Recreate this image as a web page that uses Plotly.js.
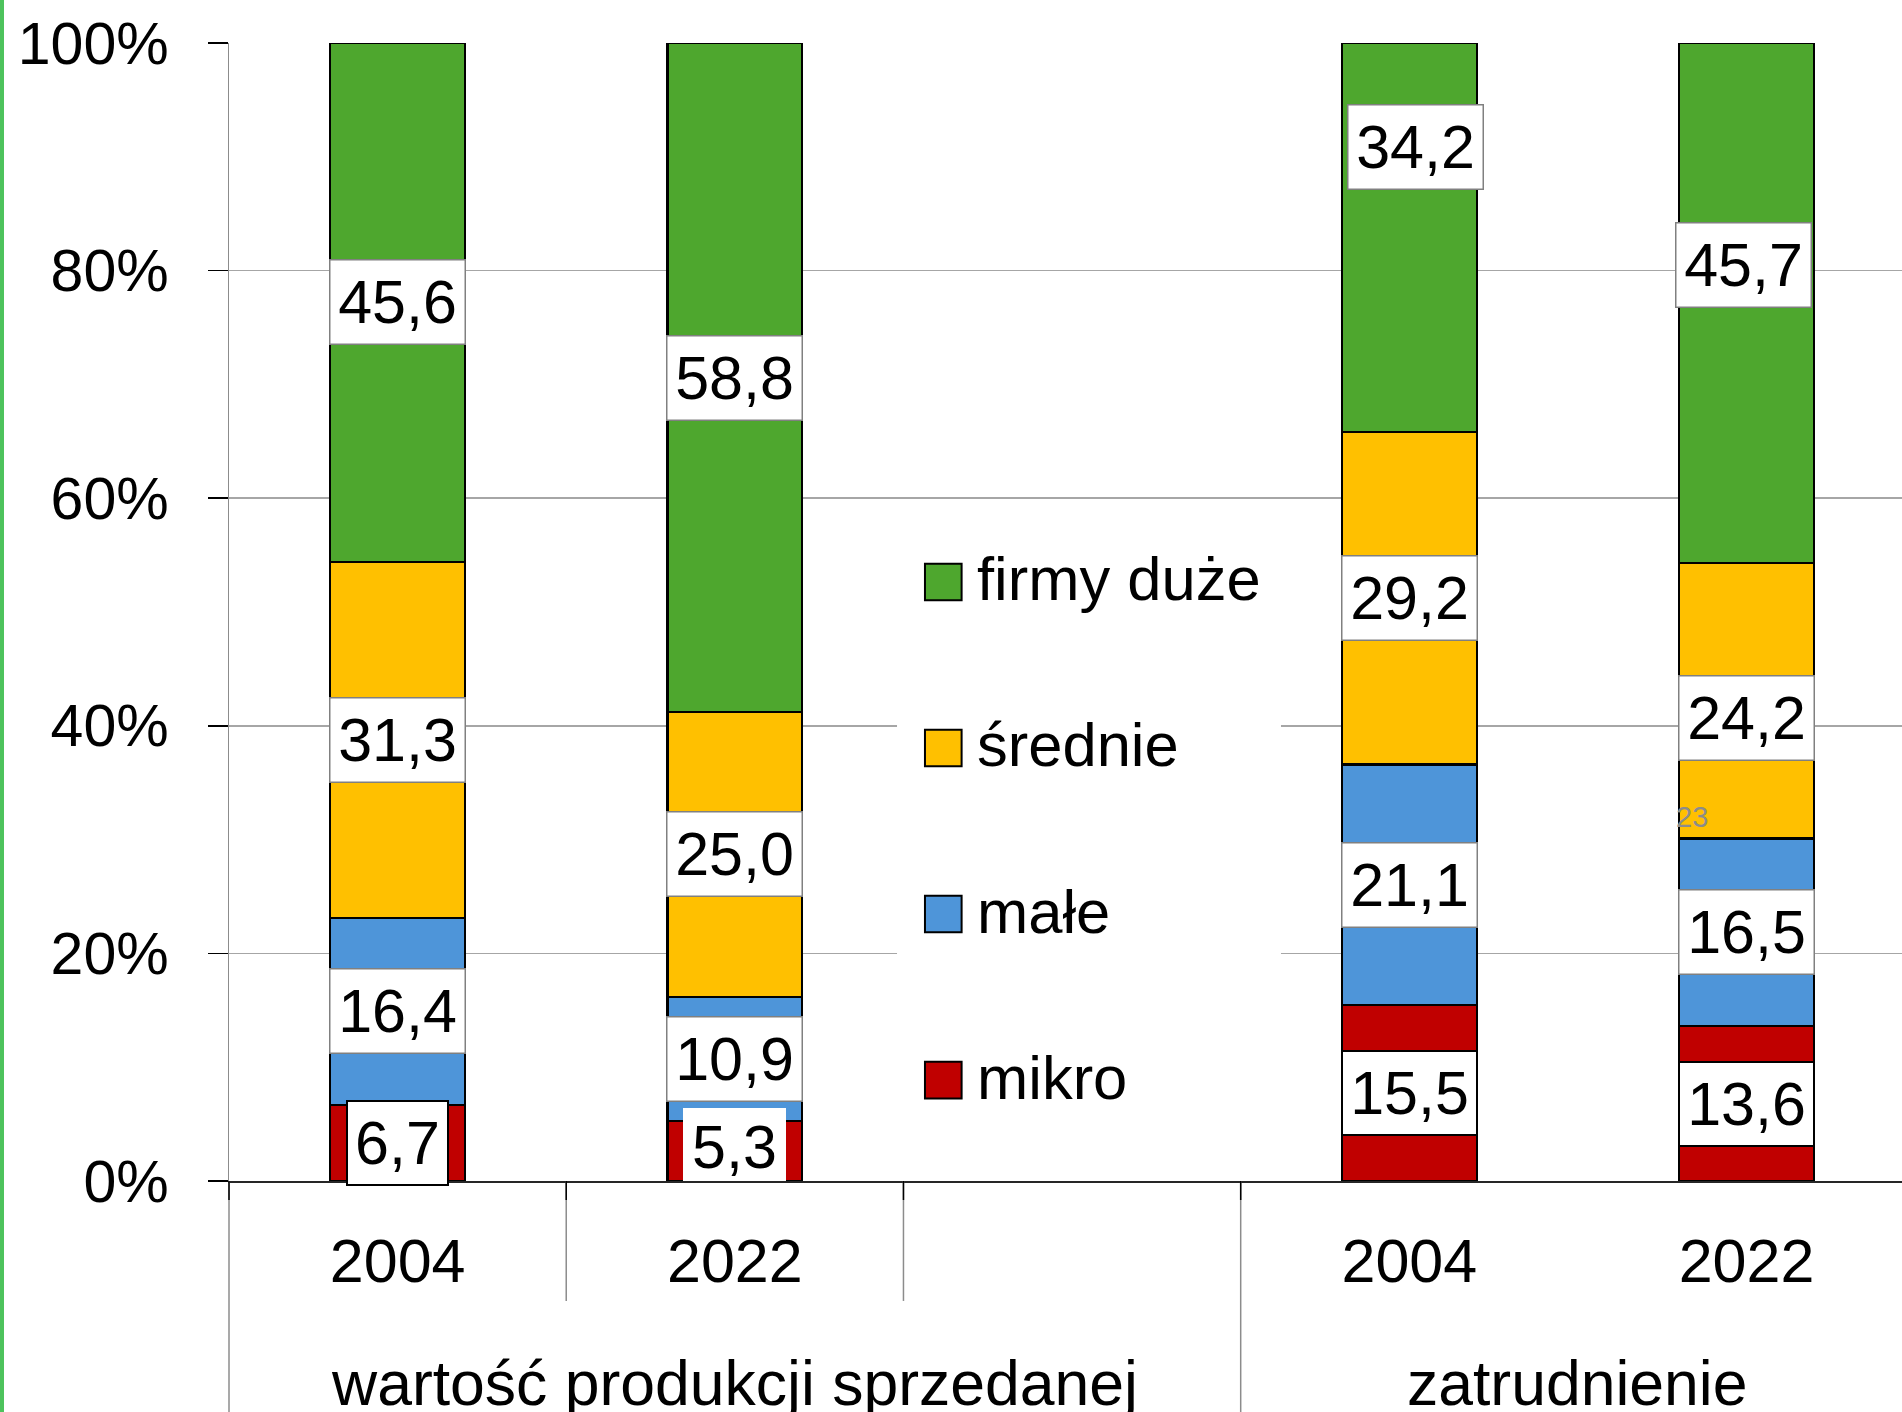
<!DOCTYPE html>
<html>
<head>
<meta charset="utf-8">
<script src="https://cdn.plot.ly/plotly-3.0.1.min.js"></script>
<style>
html,body{margin:0;padding:0;background:#fff;overflow:hidden}
#edge{position:absolute;left:0;top:0;width:4px;height:1412px;background:#4DC35C;z-index:10}
#chart{width:1902px;height:1412px}
</style>
</head>
<body>
<div id="edge"></div>
<div id="chart"></div>
<script>
// ---------- data ----------
const groups = ['wartość produkcji sprzedanej', 'zatrudnienie'];
const years = ['2004', '2022', '2004', '2022'];
const barGroup = [0, 0, 1, 1];
const seriesNames = ['mikro', 'małe', 'średnie', 'firmy duże'];
const mikro = [6.7, 5.3, 15.5, 13.6];
const male = [16.4, 10.9, 21.1, 16.5];
const srednie = [31.3, 25.0, 29.2, 24.2];
const duze = [45.6, 58.8, 34.2, 45.7];
const yTicks = [0, 20, 40, 60, 80, 100];
const strayNote = '23';

// ---------- styling ----------
const FONT = '"Liberation Sans", Arial, sans-serif';
const colors = ['#C00000', '#4E95D9', '#FFC000', '#4EA72E'];
const series = [mikro, male, srednie, duze];

// category slots (one empty slot after every group except the last)
const ids = years.map((y, i) => 'g' + barGroup[i] + '-' + y);
const catArray = [];
const groupSlots = [];
groups.forEach((g, gi) => {
  const slots = [];
  ids.forEach((id, i) => { if (barGroup[i] === gi) { slots.push(catArray.length); catArray.push(id); } });
  if (gi < groups.length - 1) { slots.push(catArray.length); catArray.push('gap' + gi); }
  groupSlots.push(slots);
});

const traces = series.map((vals, si) => ({
  type: 'bar', name: seriesNames[si], x: ids, y: vals,
  marker: { color: colors[si], line: { color: '#000', width: 2.2 } },
  width: 0.4, showlegend: false, hoverinfo: 'skip'
}));

const fmt = v => v.toFixed(1).replace('.', ',');

// per-label tweaks (pixel offsets / box styles)
const tweak = {
  '0-0': { w: 99, black: true },
  '0-1': { plain: true },
  '0-2': { black: true },
  '0-3': { black: true },
  '3-2': { dy: 91, dx: 6 },
  '3-3': { dy: 38, dx: -3 },
  '2-3': { dy: -17 }
};

const annotations = [];
const base = ids.map(() => 0);
series.forEach((vals, si) => {
  vals.forEach((v, i) => {
    const t = tweak[si + '-' + i] || {};
    const a = {
      xref: 'x', yref: 'y', x: ids[i], y: base[i] + v / 2,
      text: fmt(v), showarrow: false,
      font: { family: FONT, size: 61, color: '#000' },
      bgcolor: '#fff', bordercolor: t.black ? '#000' : '#808080',
      borderwidth: t.black ? 2 : 1.5, borderpad: 0,
      width: t.w || (t.black ? 133 : 134), height: t.black ? 82 : 83,
      xshift: t.dx || 0, yshift: t.dy || 0
    };
    if (t.plain) {
      Object.assign(a, { y: 0, yanchor: 'bottom', borderwidth: 0, bordercolor: '#fff',
        width: 103, height: 73, valign: 'bottom' });
    }
    annotations.push(a);
    base[i] += v;
  });
});

// group labels
groups.forEach((g, gi) => {
  const s = groupSlots[gi];
  annotations.push({
    xref: 'x', yref: 'paper', x: (s[0] + s[s.length - 1]) / 2, y: -0.145,
    xanchor: 'center', yanchor: 'top', text: g, showarrow: false,
    font: { family: FONT, size: 62.5, color: '#000' }
  });
});

// stray note
annotations.push({
  xref: 'paper', yref: 'y', x: 0.8745, y: 32, xanchor: 'center', yanchor: 'middle',
  text: strayNote, showarrow: false,
  font: { family: FONT, size: 29, color: '#8c8c8c' }
});

// shapes: dividers below x axis
const shapes = [];
const groupStart = new Set(groupSlots.map(s => s[0]));
for (let k = 0; k < catArray.length - 1; k++) {
  const isLong = groupStart.has(k);
  const xr = k === 0 ? 'paper' : 'x';
  const xv = k === 0 ? 0 : k - 0.5;
  shapes.push({ type: 'line', xref: xr, yref: 'paper', x0: xv, x1: xv, y0: 0, y1: isLong ? -0.21 : -0.1054,
    line: { color: '#8c8c8c', width: 1.5 } });
  shapes.push({ type: 'line', xref: xr, yref: 'paper', x0: xv, x1: xv, y0: 0, y1: -0.0167,
    line: { color: '#000', width: 1.5 } });
}

// legend (drawn manually, large square keys)
shapes.push({ type: 'rect', xref: 'paper', yref: 'paper', x0: 0.3993, x1: 0.6288, y0: 0.05, y1: 0.597,
  fillcolor: '#fff', line: { width: 0 }, layer: 'above' });
const legendOrder = [3, 2, 1, 0];
legendOrder.forEach((si, k) => {
  const yc = 0.5264 - k * 0.1459;
  shapes.push({ type: 'rect', xref: 'paper', yref: 'paper', x0: 0.4160, x1: 0.4379,
    y0: yc - 0.0161, y1: yc + 0.0161, fillcolor: colors[si], line: { color: '#000', width: 2 }, layer: 'above' });
  annotations.push({ xref: 'paper', yref: 'paper', x: 0.4462, y: yc, xanchor: 'left', yanchor: 'middle',
    yshift: 3, text: seriesNames[si], showarrow: false, font: { family: FONT, size: 61.5, color: '#000' } });
});

const layout = {
  width: 1902, height: 1412,
  margin: { l: 229, r: 0, t: 43, b: 231, pad: 0 },
  paper_bgcolor: '#fff', plot_bgcolor: '#fff',
  barmode: 'stack',
  font: { family: FONT, color: '#000' },
  xaxis: {
    type: 'category', categoryorder: 'array', categoryarray: catArray,
    range: [-0.5, 4.461], tickvals: ids, ticktext: years,
    tickfont: { family: FONT, size: 61, color: '#000' },
    ticks: '', showgrid: false, zeroline: false,
    showline: true, linecolor: '#262626', linewidth: 1.5,
    ticklabelstandoff: 26, fixedrange: true
  },
  yaxis: {
    range: [0, 100], tickvals: yTicks, ticktext: yTicks.map(v => v + '%'),
    tickfont: { family: FONT, size: 59, color: '#000' },
    ticks: 'outside', ticklen: 20, tickwidth: 1.5, tickcolor: '#000',
    showgrid: true, gridcolor: '#A6A6A6', gridwidth: 1.5,
    zeroline: false, showline: true, linecolor: '#8c8c8c', linewidth: 1.5,
    ticklabelstandoff: 27, fixedrange: true
  },
  shapes: shapes,
  annotations: annotations,
  showlegend: false
};

Plotly.newPlot('chart', traces, layout, { staticPlot: true, displayModeBar: false });
</script>
</body>
</html>
